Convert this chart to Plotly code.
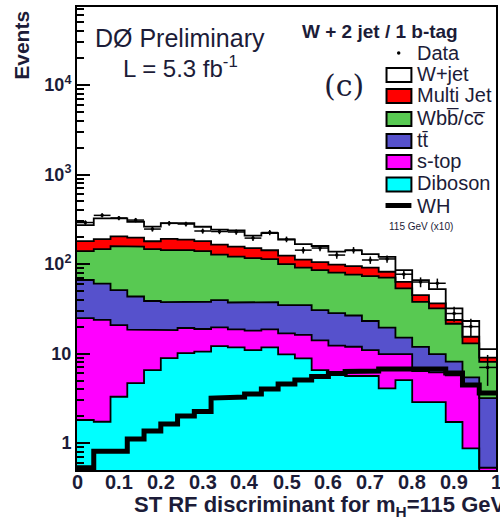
import numpy as np
import plotly.graph_objects as go

# 25 bins of the ST RF discriminant, 0 to 1
bin_edges = np.linspace(0.0, 1.0, 26)

# Expected events per bin for each background (stacked bottom to top)
diboson = [1.81, 1.73, 3.29, 4.68, 6.54, 8.91, 10.1, 10.5, 12.1, 11.7, 10.9, 11.7, 9.80,
           8.84, 6.54, 5.75, 5.61, 5.61, 4.09, 5.06, 2.87, 2.87, 1.72, 0.87, 0.0]
s_top = [23.1, 22.0, 17.5, 13.8, 11.8, 9.4, 9.2, 8.3, 7.5, 6.9, 7.1, 6.9, 7.0,
         7.3, 7.5, 6.5, 6.3, 5.3, 5.8, 4.8, 3.5, 3.3, 4.0, 3.6, 0.53]
ttbar = [41.4, 36.8, 30.4, 24.9, 20.3, 19.3, 18.3, 19.1, 20.0, 18.6, 18.9, 19.0, 18.0,
         18.7, 16.6, 16.0, 14.7, 12.2, 9.6, 5.2, 5.5, 3.7, 2.4, 0.94, 2.65]
wbb_wcc = [73.4, 86.6, 107.7, 113.5, 108.5, 105.8, 105.8, 101.8, 88.1, 84.1, 79.8, 76.1, 65.2,
           56.6, 55.1, 52.1, 49.7, 50.3, 51.2, 38.4, 26.0, 22.1, 13.4, 7.6, 4.9]
multijet = [41.0, 43.2, 45.0, 40.9, 32.7, 47.9, 44.0, 41.0, 37.5, 35.6, 34.3, 28.9, 24.5,
            20.9, 19.6, 18.3, 18.7, 18.0, 11.3, 9.9, 7.1, 4.4, 2.2, 2.4, 0.92]
w_jet = [92.1, 133.7, 120.1, 99.2, 82.2, 95.7, 99.6, 80.3, 77.8, 80.1, 57.0, 79.4, 63.5,
         54.7, 53.7, 39.3, 47.0, 37.6, 38.0, 22.3, 21.3, 16.2, 8.3, 7.7, 2.2]

# WH signal, m_H = 115 GeV, scaled by 10
wh_x10 = [0.53, 0.81, 0.81, 1.11, 1.36, 1.63, 2.00, 2.25, 3.18, 3.27, 3.53, 4.01, 4.56,
          5.06, 5.53, 5.98, 6.29, 6.37, 6.71, 6.89, 6.89, 6.71, 6.05, 4.45, 3.62]

# Observed events
data = [291, 350, 327, 310, 246, 285, 280, 234, 231, 228, 195, 225, 189,
        143, 151, 126, 143, 111, 114, 77, 63, 61, 28, 20, 7]

x_ticks = [0, 0.1, 0.2, 0.3, 0.4, 0.5, 0.6, 0.7, 0.8, 0.9, 1]
x_tick_text = ["0", "0.1", "0.2", "0.3", "0.4", "0.5", "0.6", "0.7", "0.8", "0.9", "1"]
y_ticks = [1, 10, 100, 1000, 10000]
y_tick_text = ["1", "10", "10<sup>2</sup>", "10<sup>3</sup>", "10<sup>4</sup>"]

components = [
    ("Diboson", diboson, "#00ffff"),
    ("s-top", s_top, "#ff00ff"),
    ("tt\u0304", ttbar, "#5651cc"),
    ("Wbb\u0305/cc\u0305", wbb_wcc, "#58c952"),
    ("Multi Jet", multijet, "#ff0000"),
    ("W+jet", w_jet, "#ffffff"),
]

TEXT = "#1c1c38"
FONT = "Liberation Sans"
FLOOR = 1e-3

W, H = 500, 522
L, R, T, B = 77, 2, 7, 52


def px(xp):
    return (xp - L) / (W - L - R)


def py(yp):
    return (H - B - yp) / (H - T - B)


def steps(vals):
    xs = np.repeat(bin_edges, 2)[1:-1]
    ys = np.repeat(np.maximum(np.asarray(vals, float), FLOOR), 2)
    return xs, ys


cum = np.cumsum(np.array([c[1] for c in components], dtype=float), axis=0)

fig = go.Figure()

# filled areas, largest stack level first
for i in reversed(range(len(components))):
    xs, ys = steps(cum[i])
    fig.add_trace(go.Scatter(
        x=list(xs) + [1.0, 0.0], y=list(ys) + [FLOOR, FLOOR],
        fill="toself", fillcolor=components[i][2], line=dict(width=0),
        mode="lines", hoverinfo="skip", showlegend=False))

# black outlines of every stack level
for i in reversed(range(len(components))):
    xs, ys = steps(cum[i])
    fig.add_trace(go.Scatter(x=xs, y=ys, mode="lines",
                             line=dict(color="black", width=1.8),
                             hoverinfo="skip", showlegend=False))

# signal
xs, ys = steps(wh_x10)
fig.add_trace(go.Scatter(x=xs, y=ys, mode="lines",
                         line=dict(color="black", width=5),
                         showlegend=False))

# data points with Poisson errors
centers = 0.5 * (bin_edges[:-1] + bin_edges[1:])
fig.add_trace(go.Scatter(
    x=centers, y=data, mode="markers",
    marker=dict(color="black", size=3.5),
    error_x=dict(type="constant", value=0.02, width=0, thickness=1.5, color="black"),
    error_y=dict(type="data", array=np.sqrt(data), width=0, thickness=1.5, color="black"),
    showlegend=False))

minor_vals = [k * 10.0 ** p for p in range(-1, 5) for k in range(2, 10)]

fig.update_layout(
    width=W, height=H, autosize=False,
    margin=dict(l=L, r=R, t=T, b=B, pad=0),
    paper_bgcolor="white", plot_bgcolor="white",
    showlegend=False,
    font=dict(family=FONT, color=TEXT),
    xaxis=dict(range=[0, 1], showgrid=False, zeroline=False,
               showline=True, linecolor="black", linewidth=2, mirror=True,
               ticks="", showticklabels=False),
    yaxis=dict(type="log", range=[-0.301, 4.872], showgrid=False, zeroline=False,
               showline=True, linecolor="black", linewidth=2, mirror=True,
               ticks="inside", ticklen=13, tickwidth=2, tickcolor="black",
               tickmode="array", tickvals=y_ticks, ticktext=y_tick_text,
               tickfont=dict(size=18, weight="bold", color=TEXT, family=FONT),
               minor=dict(ticks="inside", ticklen=7, tickwidth=1.5, tickcolor="black",
                          tickmode="array", tickvals=minor_vals, showgrid=False)),
)

ann = []


def text(x, y, s, size, xanchor="left", weight="normal", family=FONT, angle=0, yanchor="middle"):
    ann.append(dict(x=px(x), y=py(y), xref="paper", yref="paper", text=s,
                    showarrow=False, xanchor=xanchor, yanchor=yanchor, textangle=angle,
                    font=dict(size=size, weight=weight, family=family, color=TEXT)))


# x tick labels sit just under the frame
for tv, tt in zip(x_ticks, x_tick_text):
    ann.append(dict(x=tv, y=py(482), xref="x", yref="paper", text=tt,
                    showarrow=False, xanchor="center", yanchor="middle",
                    font=dict(size=20, weight="bold", family=FONT, color=TEXT)))

text(132, 506, "ST RF discriminant for m<sub>H</sub>=115 GeV", 22, weight="bold")
text(21, 9, "Events", 21, xanchor="center", weight="bold", angle=-90, yanchor="top")
text(180, 38, "D\u00d8 Preliminary", 25, xanchor="center")
text(181, 67, "L = 5.3 fb<sup>-1</sup>", 24, xanchor="center")
text(381, 32, "W + 2 jet / 1 b-tag", 19, xanchor="center", weight="bold")
text(345, 85, "(c)", 30, xanchor="center", family="DejaVu Serif")

# legend
shapes = []
text(417, 53, "Data", 20)
shapes.append(dict(type="circle", xref="paper", yref="paper",
                   x0=px(398.5), x1=px(402), y0=py(51.2), y1=py(54.7),
                   fillcolor="black", line=dict(width=0)))

legend_rows = [75, 96, 119, 141, 162, 184.5]
for (name, _, color), yc in zip(reversed(components), legend_rows):
    shapes.append(dict(type="rect", xref="paper", yref="paper",
                       x0=px(388), x1=px(413), y0=py(yc + 7), y1=py(yc - 7),
                       fillcolor=color, line=dict(color="black", width=2)))
    text(417, yc - 1, name, 20)

shapes.append(dict(type="rect", xref="paper", yref="paper",
                   x0=px(387), x1=px(413), y0=py(208), y1=py(203),
                   fillcolor="black", line=dict(width=0)))
text(417, 206, "WH", 20)
text(388, 226, "115 GeV (x10)", 10)

fig.update_layout(annotations=ann, shapes=shapes)

fig.write_html("out.html")
